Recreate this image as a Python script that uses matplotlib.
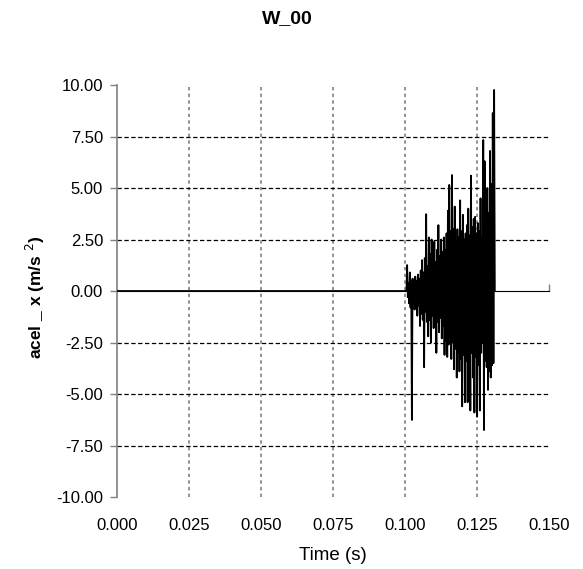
import numpy as np
import matplotlib
matplotlib.use("Agg")
import matplotlib.pyplot as plt

plt.rcParams["font.family"] = ["Liberation Sans", "DejaVu Sans"]

# acceleration record: flat until the impact, then sampled burst
t_start = 0.1005
dt = 0.000236
burst = [
    # onset
    0.0, 1.26, -0.3, 0.4, -0.6, 0.9, -0.8, 0.5, -6.26, 0.6, -0.5, 0.4, -0.9,
    0.7, -0.6, 0.5, -1.2, 0.8, -0.7, 0.6, -1.7, 1.0, -1.1, 1.5, -1.4, 0.9,
    # growth
    -3.7, 1.6, -1.0, 3.73, -1.5, 1.2, -2.2, 2.6, -1.4, 1.8, -2.5, 2.5, -1.2,
    1.6, -1.8, 2.4, -1.6, 1.4, -3.0, 2.0, -1.5, 3.2, -2.0, 1.7, -1.3, 2.5,
    -2.3, 1.9, -1.7, 2.6, -3.1, 2.0, -2.4, 2.8, -3.2, 3.9, -2.6,
    # strong phase
    5.15, -2.2, 2.9, -3.3, 5.63, -2.5, 3.0, -3.8, 4.1, -2.8, 2.4, -4.2, 3.0,
    -3.0, 2.6, -3.9, 4.4, -3.3, 2.9, -5.6, 3.7, -3.1, 2.5, -5.4, 2.8, -3.4,
    3.2, -5.4, 4.0, -3.5, 2.7, -5.8, 5.6, -3.0, 3.1, -4.2, 3.5,
    # final peaks
    -5.9, 3.6, -3.2, 2.8, -6.1, 3.3, -3.6, 2.9, -5.8, 4.5, -3.0, 2.6, -2.5,
    7.33, -6.75, 6.3, -3.4, 4.1, -3.7, 5.0, -4.8, 3.8, -3.9, 6.8, -4.2, 5.2,
    -3.6, 8.64, -3.5, 9.76, 0.0,
]

x_ticks = [0.000, 0.025, 0.050, 0.075, 0.100, 0.125, 0.150]
y_ticks = [-10.0, -7.5, -5.0, -2.5, 0.0, 2.5, 5.0, 7.5, 10.0]

time = np.concatenate([[0.0], t_start + dt * np.arange(len(burst))])
acel = np.concatenate([[0.0], burst])

fig = plt.figure(figsize=(5.83, 5.69), dpi=100)
ax = fig.add_axes([0.2007, 0.1265, 0.741, 0.7241])

# inner grid lines only (none on the frame edges)
for xv in x_ticks[1:-1]:
    ax.axvline(xv, color="#808080", lw=1.2, ls=(0, (2, 2)), zorder=1)
for yv in y_ticks:
    if abs(yv) not in (0.0, 10.0):
        ax.axhline(yv, color="black", lw=0.9, ls=(0, (3.5, 2)), zorder=1)

# category axis crosses at zero
zax = ax.secondary_xaxis(0.5)
zax.set_xticks([0.150])
zax.set_xticklabels([])
zax.tick_params(direction="out", length=5, color="#808080", width=1)
zax.spines["bottom"].set_color("black")
zax.spines["bottom"].set_linewidth(1.0)

ax.plot(time, acel, color="black", lw=1.3, zorder=3)

ax.set_xlim(0, 0.150)
ax.set_ylim(-10, 10)
ax.set_xticks(x_ticks)
ax.set_xticklabels([f"{v:.3f}" for v in x_ticks])
ax.set_yticks(y_ticks)
ax.set_yticklabels([f"{v:.2f}" for v in y_ticks])
ax.tick_params(axis="x", length=0, pad=15, labelsize=12)
ax.tick_params(axis="y", direction="out", length=5, color="#808080",
               width=1, labelsize=12, pad=5)

for side in ["top", "right", "bottom"]:
    ax.spines[side].set_visible(False)
ax.spines["left"].set_color("#808080")
ax.spines["left"].set_linewidth(1.2)

ax.set_xlabel("Time (s)", fontsize=13.5, labelpad=10)
ax.set_ylabel("acel _ x (m/s $^{2}$)", fontsize=12.5, fontweight="bold")
ax.yaxis.set_label_coords(-0.163, 0.485)
fig.text(0.493, 0.967, "W_00", fontsize=14, fontweight="bold",
         ha="center", va="center")

fig.savefig("out.png", dpi=100, facecolor="white")
